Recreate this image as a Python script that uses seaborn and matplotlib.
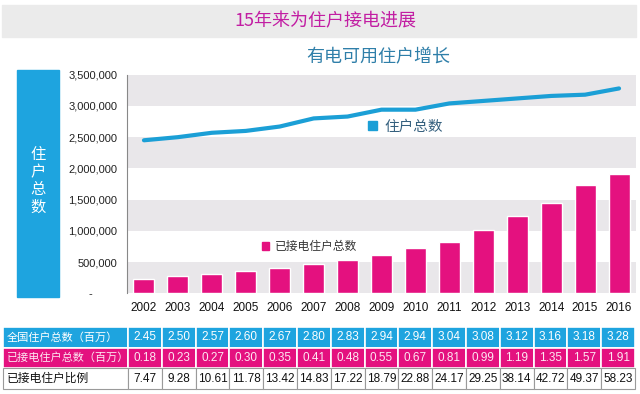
##### 15年来为住户接电进展 (seaborn)

import numpy as np
import pandas as pd
import matplotlib
matplotlib.use('Agg')
import matplotlib.pyplot as plt
from matplotlib.patches import Rectangle, Patch
from matplotlib.ticker import FuncFormatter
import seaborn as sns

##### データ
years = [2002, 2003, 2004, 2005, 2006, 2007, 2008, 2009, 2010, 2011, 2012, 2013, 2014, 2015, 2016]
total_m = [2.45, 2.50, 2.57, 2.60, 2.67, 2.80, 2.83, 2.94, 2.94, 3.04, 3.08, 3.12, 3.16, 3.18, 3.28]
elec_m = [0.18, 0.23, 0.27, 0.30, 0.35, 0.41, 0.48, 0.55, 0.67, 0.81, 0.99, 1.19, 1.35, 1.57, 1.91]
ratio = [7.47, 9.28, 10.61, 11.78, 13.42, 14.83, 17.22, 18.79, 22.88, 24.17, 29.25, 38.14, 42.72, 49.37, 58.23]
# 棒グラフの高さ
bar_values = [234000, 272000, 309000, 352000, 405000, 464000, 539000, 614000,
              721000, 822000, 1014000, 1239000, 1452000, 1731000, 1912000]
row_labels = ['全国住户总数（百万）', '已接电住户总数（百万）', '已接电住户比例']
yticks = [0, 500000, 1000000, 1500000, 2000000, 2500000, 3000000, 3500000]

title = '15年来为住户接电进展'
subtitle = '有电可用住户增长'
ylabel_box = '住\n户\n总\n数'
line_label = '住户总数'
bar_label = '已接电住户总数'

BLUE = '#1ea4df'
PINK = '#e4117f'
LINE = '#1b9fd6'
BAND = '#e9e7ea'
CJK = ['Noto Sans CJK SC', 'DejaVu Sans']
NUM = ['Liberation Sans', 'DejaVu Sans']

df = pd.DataFrame({'year': years, 'pos': np.arange(len(years)),
                   'total': np.array(total_m) * 1e6, 'bar': bar_values})

sns.set_style('white')
fig = plt.figure(figsize=(6.4, 3.94), dpi=100)

##### タイトル帯
fig.patches.append(Rectangle((2 / 640, 1 - 37 / 394), 634 / 640, 32 / 394,
                             transform=fig.transFigure, color='#ebebeb', zorder=0))
fig.text(325 / 640, 1 - 21 / 394, title, ha='center', va='center', fontsize=13,
         color='#c21ea3', family=CJK)
fig.text(378 / 640, 1 - 57 / 394, subtitle, ha='center', va='center', fontsize=13,
         color='#2f7fa9', family=CJK)

##### 左の青いボックス
fig.patches.append(Rectangle((17 / 640, 1 - 297 / 394), 42 / 640, 227 / 394,
                             transform=fig.transFigure, color=BLUE, zorder=0))
fig.text(38 / 640, 1 - 181 / 394, ylabel_box, ha='center', va='center', fontsize=11,
         color='white', family=CJK, linespacing=1.05)

##### メインのグラフ
ax = fig.add_axes([127 / 640, 1 - 293.3 / 394, 509 / 640, 218.6 / 394])
for i in range(len(yticks) - 1):
    if i % 2 == 0:
        ax.axhspan(yticks[i], yticks[i + 1], color=BAND, zorder=0, lw=0)

sns.barplot(data=df, x='pos', y='bar', color=PINK, saturation=1, width=0.62, ax=ax, zorder=2)
sns.lineplot(data=df, x='pos', y='total', color=LINE, lw=3, ax=ax, zorder=3)

ax.set_xlim(-0.5, len(years) - 0.5)
ax.set_ylim(0, 3500000)
ax.set_yticks(yticks)
ax.yaxis.set_major_formatter(FuncFormatter(lambda v, p: '-        ' if v == 0 else f'{int(v):,}'))
ax.set_xticks(df['pos'])
ax.set_xticklabels([str(y) for y in years])
ax.tick_params(axis='x', length=0, labelsize=8.5, pad=6, colors='#111111')
ax.tick_params(axis='y', length=4, width=0.8, color='#777777', labelsize=8, colors='#222222', pad=3)
ax.tick_params(axis='y', colors='#777777', labelcolor='#222222')
ax.set_xlabel('')
ax.set_ylabel('')
for s in ['top', 'right', 'bottom']:
    ax.spines[s].set_visible(False)
ax.spines['left'].set_color('#888888')
ax.spines['left'].set_linewidth(0.8)
for lab in ax.get_xticklabels() + ax.get_yticklabels():
    lab.set_family(NUM)

##### 凡例
leg1 = ax.legend(handles=[Patch(color=LINE, label=line_label)], loc='center left',
                 bbox_to_anchor=(228 / 509, 1 - 52 / 218.6), frameon=False,
                 handlelength=0.6, handleheight=0.6, handletextpad=0.5,
                 prop={'family': CJK, 'size': 10.5}, labelcolor='#35607e')
ax.add_artist(leg1)
ax.legend(handles=[Patch(color=PINK, label=bar_label)], loc='center left',
          bbox_to_anchor=(124 / 509, 1 - 172 / 218.6), frameon=False,
          handlelength=0.6, handleheight=0.6, handletextpad=0.5,
          prop={'family': CJK, 'size': 8.5}, labelcolor='#333333')

##### 下の表
ax_t = fig.add_axes([3 / 640, 1 - 389 / 394, 632 / 640, 62 / 394])
ax_t.axis('off')
cell_text = [[row_labels[0]] + [f'{v:.2f}' for v in total_m],
             [row_labels[1]] + [f'{v:.2f}' for v in elec_m],
             [row_labels[2]] + [f'{v:.2f}' for v in ratio]]
n = len(years)
col_w = [125 / 632] + [(632 - 125) / 632 / n] * n
tbl = ax_t.table(cellText=cell_text, colWidths=col_w, bbox=[0, 0, 1, 1], cellLoc='center')
tbl.auto_set_font_size(False)
row_face = [BLUE, PINK, 'white']
row_txt = ['white', '#fde8f2', '#111111']
row_edge = ['white', 'white', '#9a9a9a']
for r in range(3):
    for c in range(n + 1):
        cell = tbl[r, c]
        cell.set_facecolor(row_face[r])
        cell.set_edgecolor(row_edge[r])
        cell.set_linewidth(1.2 if r < 2 else 0.8)
        t = cell.get_text()
        t.set_color(row_txt[r])
        if c == 0:
            t.set_family(CJK)
            t.set_fontsize(8)
            t.set_ha('left')
            cell.PAD = 0.03
        else:
            t.set_family(NUM)
            t.set_fontsize(8.5)
tbl[2, 0].get_text().set_fontsize(8.5)

fig.savefig('out.png', dpi=100)
